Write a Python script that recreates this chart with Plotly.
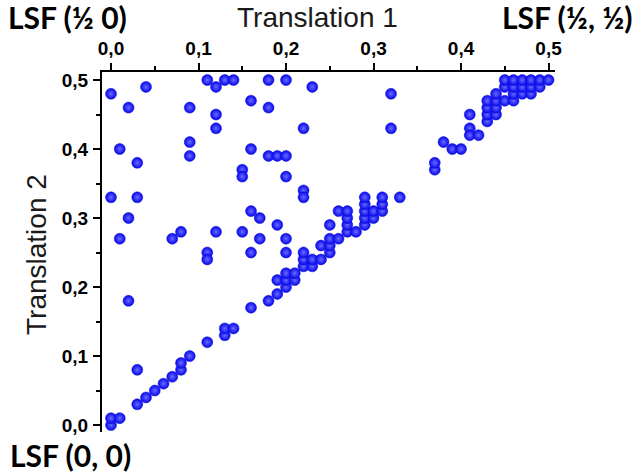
import plotly.graph_objects as go

# Translation 1 (x) and Translation 2 (y) coordinates of each solution
translation_1 = [
    # scattered solutions
    0.00, 0.04, 0.02, 0.09, 0.11, 0.12, 0.13, 0.14, 0.18, 0.20, 0.23, 0.32,
    0.16, 0.18, 0.12, 0.12, 0.22, 0.32, 0.09, 0.09, 0.01, 0.03, 0.16, 0.18,
    0.19, 0.20, 0.15, 0.15, 0.20, 0.22, 0.22, 0.00, 0.03, 0.02, 0.16, 0.17,
    0.01, 0.07, 0.08, 0.12, 0.15, 0.17, 0.19, 0.20, 0.16, 0.20, 0.11, 0.11,
    0.02, 0.03,
    # lower diagonal
    0.00, 0.00, 0.01, 0.03, 0.04, 0.05, 0.06, 0.07, 0.08, 0.08, 0.09, 0.11,
    0.13, 0.13, 0.14, 0.16, 0.18, 0.19, 0.20, 0.19, 0.20, 0.21, 0.20, 0.21,
    0.22, 0.23, 0.22, 0.23, 0.24, 0.22, 0.25, 0.24, 0.25, 0.25, 0.26, 0.25,
    0.27, 0.27, 0.28, 0.27, 0.26, 0.27, 0.29, 0.29, 0.29, 0.29, 0.29, 0.30,
    0.30, 0.31, 0.31, 0.31, 0.33,
    # upper diagonal
    0.37, 0.37, 0.38, 0.39, 0.40, 0.41, 0.41, 0.41, 0.42,
    0.43, 0.43, 0.43, 0.43, 0.44, 0.44, 0.44, 0.44,
    0.45, 0.45, 0.45, 0.46, 0.46, 0.46, 0.46,
    0.47, 0.47, 0.47, 0.48, 0.48, 0.48, 0.49, 0.49, 0.50,
]
translation_2 = [
    0.48, 0.49, 0.46, 0.46, 0.50, 0.49, 0.50, 0.50, 0.50, 0.50, 0.49, 0.48,
    0.47, 0.46, 0.45, 0.43, 0.43, 0.43, 0.41, 0.39, 0.40, 0.38, 0.40, 0.39,
    0.39, 0.39, 0.37, 0.36, 0.36, 0.34, 0.33, 0.33, 0.33, 0.30, 0.31, 0.30,
    0.27, 0.27, 0.28, 0.28, 0.28, 0.27, 0.29, 0.27, 0.25, 0.25, 0.25, 0.24,
    0.18, 0.08,
    0.00, 0.01, 0.01, 0.03, 0.04, 0.05, 0.06, 0.07, 0.08, 0.09, 0.10, 0.12,
    0.13, 0.14, 0.14, 0.17, 0.18, 0.19, 0.20, 0.21, 0.21, 0.21, 0.22, 0.22,
    0.23, 0.23, 0.24, 0.24, 0.24, 0.25, 0.25, 0.26, 0.26, 0.27, 0.27, 0.29,
    0.28, 0.29, 0.28, 0.30, 0.31, 0.31, 0.29, 0.30, 0.31, 0.32, 0.33, 0.30,
    0.31, 0.31, 0.32, 0.33, 0.33,
    0.37, 0.38, 0.41, 0.40, 0.40, 0.45, 0.43, 0.42, 0.42,
    0.44, 0.45, 0.46, 0.47, 0.45, 0.46, 0.47, 0.48,
    0.47, 0.49, 0.50, 0.47, 0.48, 0.49, 0.50,
    0.48, 0.49, 0.50, 0.48, 0.49, 0.50, 0.49, 0.50, 0.50,
]

tick_values = [0.0, 0.1, 0.2, 0.3, 0.4, 0.5]
tick_labels = ["0,0", "0,1", "0,2", "0,3", "0,4", "0,5"]
minor_tick_values = [0.05, 0.15, 0.25, 0.35, 0.45]

x_title = "Translation 1"
y_title = "Translation 2"
corner_labels = ["LSF (½ 0)", "LSF (½, ½)", "LSF (0, 0)"]

fig = go.Figure()
fig.add_trace(go.Scatter(
    x=translation_1, y=translation_2, mode="markers",
    marker=dict(size=11, color="#0505f0",
                gradient=dict(type="radial", color="#6a6aff"),
                line=dict(width=0.5, color="#1010d0")),
    hoverinfo="x+y", showlegend=False,
))

tick_font = dict(family="Liberation Sans, Arial", size=19, color="black", weight="bold")

axis_common = dict(
    showline=True, linecolor="black", linewidth=2,
    ticks="outside", ticklen=7, tickwidth=1.5, tickcolor="black",
    tickvals=tick_values, ticktext=tick_labels, tickfont=tick_font,
    showgrid=False, zeroline=False, automargin=False,
    minor=dict(ticks="outside", ticklen=4, tickwidth=1.5, tickcolor="black",
               tickvals=minor_tick_values, showgrid=False),
)

fig.update_layout(
    width=637, height=474,
    margin=dict(l=102, r=82, t=72, b=42),
    paper_bgcolor="white", plot_bgcolor="white",
    xaxis=dict(side="top", range=[-0.0103, 0.5074], ticklabelstandoff=0, **axis_common),
    yaxis=dict(side="left", range=[-0.0101, 0.5116], ticklabelstandoff=1, **axis_common),
)

W, H = 453.0, 360.0
def px_x(p):
    return (p - 102) / W
def px_y(p):
    return (432 - p) / H

title_font = dict(family="Liberation Sans, Arial", size=28, color="#1a1a1a")
lsf_font = dict(family="Lato, Open Sans", size=30, color="black", weight="bold")

fig.add_annotation(text=x_title, x=px_x(317), y=px_y(17), xref="paper", yref="paper",
                   showarrow=False, font=title_font, xanchor="center", yanchor="middle")
fig.add_annotation(text=y_title, x=px_x(36), y=px_y(255), xref="paper", yref="paper",
                   showarrow=False, font=title_font, textangle=-90,
                   xanchor="center", yanchor="middle")
fig.add_annotation(text=corner_labels[0], x=px_x(6), y=px_y(17), xref="paper", yref="paper",
                   showarrow=False, font=lsf_font, xanchor="left", yanchor="middle")
fig.add_annotation(text=corner_labels[1], x=px_x(635), y=px_y(17), xref="paper", yref="paper",
                   showarrow=False, font=lsf_font, xanchor="right", yanchor="middle")
fig.add_annotation(text=corner_labels[2], x=px_x(8), y=px_y(455), xref="paper", yref="paper",
                   showarrow=False, font=lsf_font, xanchor="left", yanchor="middle")

fig.write_html("out.html", config={"displayModeBar": False},
               post_script="document.body.style.margin='0';document.body.style.overflow='hidden';")
